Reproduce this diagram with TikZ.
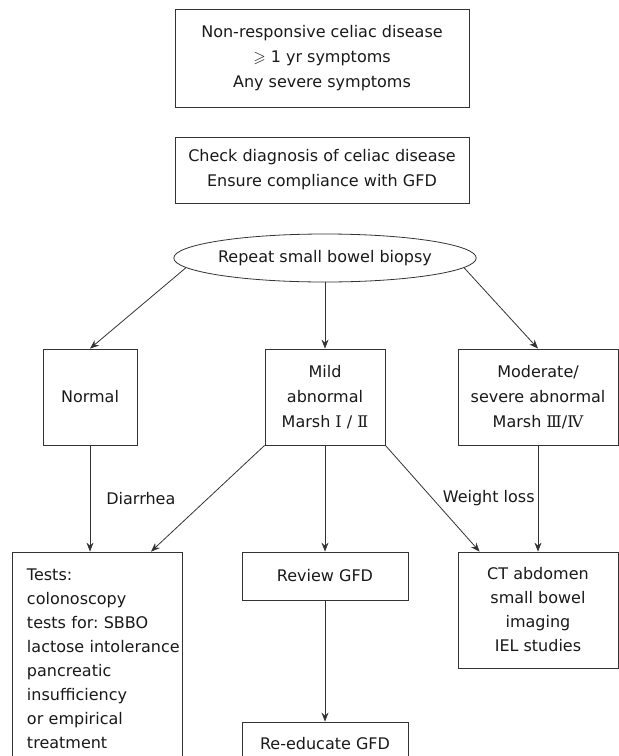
\documentclass[tikz,border=0pt]{standalone}
\usepackage{amssymb}
\usepackage{fontspec}
\setmainfont{DejaVu Sans}
\newfontfamily\marshfont{DejaVu Serif}
\usetikzlibrary{shapes.geometric,arrows.meta}
\frenchspacing

\begin{document}
\begin{tikzpicture}[x=1pt, y=-1pt,
		every node/.style={font=\fontsize{16}{25}\selectfont, text=black!90},
		box/.style={draw=black!80, line width=0.8pt, align=center, inner sep=0pt},
		arr/.style={draw=black!80, line width=0.8pt, -{Stealth[length=9pt,width=7pt,inset=3pt]}},
		lbl/.style={inner sep=0pt}]
		\useasboundingbox (0,0) rectangle (619,756);

		%%% Top
		\node[box, minimum width=294, minimum height=98] (start) at (322,58)
			{Non-responsive celiac disease\\$\geqslant$ 1 yr symptoms\\Any severe symptoms};
		\node[box, minimum width=294, minimum height=66] (check) at (322,170)
			{Check diagnosis of celiac disease\\Ensure compliance with GFD};
		\node[box, ellipse, minimum width=290, minimum height=48] (biopsy) at (325,258)
			{Repeat small bowel biopsy};

		%%% Biopsy results
		\node[box, minimum width=94, minimum height=96] (normal) at (90,397) {Normal};
		\node[box, minimum width=120, minimum height=96] (mild) at (325,397)
			{Mild\\abnormal\\Marsh {\marshfont Ⅰ} / {\marshfont Ⅱ}};
		\node[box, minimum width=160, minimum height=96] (severe) at (538,397)
			{Moderate/\\severe abnormal\\Marsh {\marshfont Ⅲ}/{\marshfont Ⅳ}};

		%%% Work-up
		\node[box, align=left, text width=140, minimum width=170, minimum height=214,
			font=\fontsize{16}{24}\selectfont] (tests) at (97,659)
			{Tests:\\colonoscopy\\tests for: SBBO\\\mbox{lactose intolerance}\\pancreatic\\insufficiency\\or empirical\\treatment};
		\node[box, minimum width=166, minimum height=48] (review) at (325,576) {Review GFD};
		\node[box, minimum width=166, minimum height=44] (reeducate) at (325,744) {Re-educate GFD};
		\node[box, minimum width=160, minimum height=116,
			font=\fontsize{16}{24}\selectfont] (imaging) at (538,610)
			{CT abdomen\\small bowel\\imaging\\IEL studies};

		%%% Arrows
		\draw[arr] (biopsy.184) -- (normal.north);
		\draw[arr] (biopsy.south) -- (mild.north);
		\draw[arr] (biopsy.356) -- (severe.north);

		\draw[arr] (normal.south) -- node[lbl, right=16pt]{Diarrhea} (normal.south |- tests.north);
		\draw[arr] (mild.south west) -- ([xshift=54]tests.north);
		\draw[arr] (mild.south) -- (review.north);
		\draw[arr] (mild.south east) -- ([xshift=22]imaging.north west);
		\draw[arr] (severe.south) -- node[lbl, left=3pt]{Weight loss} (imaging.north);

		\draw[arr] (review.south) -- (reeducate.north);
\end{tikzpicture}
\end{document}
